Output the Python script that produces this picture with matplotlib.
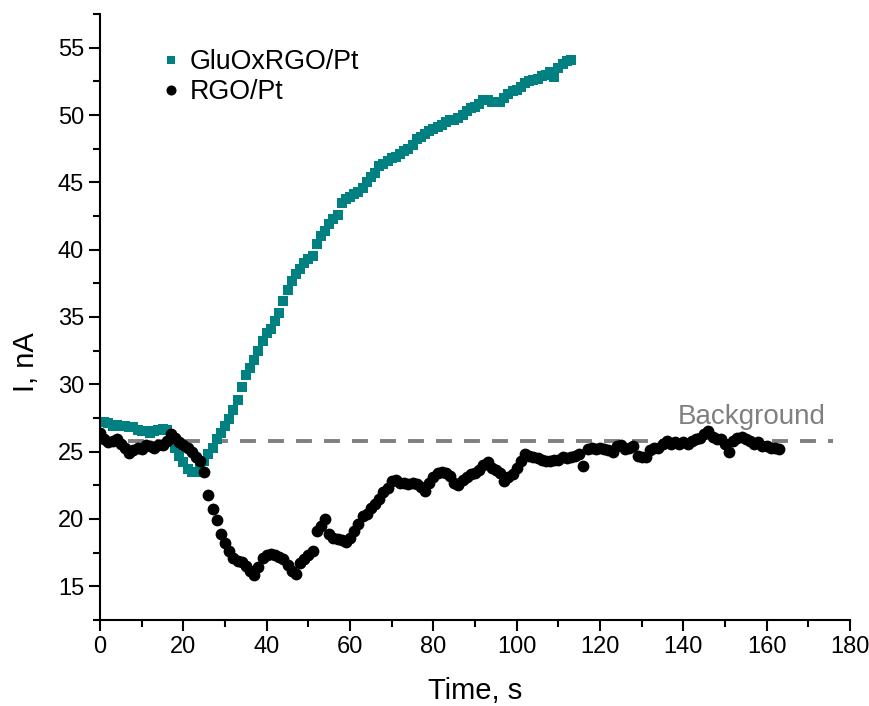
import matplotlib.pyplot as plt
from matplotlib.ticker import MultipleLocator

plt.rcParams['font.family'] = ['Liberation Sans Narrow', 'Liberation Sans', 'DejaVu Sans']

# GluOxRGO/Pt, one point per second from t = 1 s
glu_t0 = 1
glu_i = [27.2, 27.1, 26.9, 27.0, 26.9, 26.9, 26.8, 26.8, 26.6, 26.5,
         26.5, 26.4, 26.5, 26.6, 26.7, 26.6, 25.8, 25.3, 24.7, 24.2,
         23.7, 23.5, 23.5, 23.9, 24.3, 24.8, 25.3, 25.9, 26.4, 26.9,
         27.4, 28.1, 28.8, 29.8, 30.7, 31.2, 31.8, 32.5, 33.2, 33.8,
         34.1, 34.7, 35.3, 36.2, 37.0, 37.7, 38.2, 38.6, 39.0, 39.3,
         39.5, 40.4, 41.0, 41.4, 41.9, 42.3, 42.6, 43.5, 43.8, 43.9,
         44.1, 44.3, 44.6, 45.0, 45.4, 45.7, 46.2, 46.4, 46.6, 46.8,
         46.9, 47.1, 47.3, 47.5, 47.8, 48.2, 48.4, 48.6, 48.8, 49.0,
         49.1, 49.3, 49.5, 49.6, 49.6, 49.8, 50.0, 50.3, 50.5, 50.6,
         50.8, 51.1, 51.1, 51.0, 51.0, 51.0, 51.3, 51.6, 51.8, 51.9,
         52.1, 52.4, 52.5, 52.6, 52.7, 52.9, 53.0, 53.2, 52.8, 53.5,
         53.8, 54.0, 54.1]

# RGO/Pt, one point per second from t = 0 s
rgo_t0 = 0
rgo_i = [26.4, 25.9, 25.7, 25.8, 25.9, 25.6, 25.3, 24.9, 25.1, 25.3,
         25.2, 25.5, 25.4, 25.3, 25.5, 25.5, 25.8, 26.3, 26.0, 25.7,
         25.5, 25.3, 25.0, 24.6, 24.3, 23.5, 21.8, 20.7, 19.9, 18.9,
         18.2, 17.6, 17.1, 16.9, 16.8, 16.5, 16.1, 15.8, 16.4, 17.1,
         17.3, 17.4, 17.3, 17.2, 17.0, 16.6, 16.1, 15.9, 16.7, 17.0,
         17.3, 17.6, 19.1, 19.5, 20.0, 18.9, 18.6, 18.5, 18.4, 18.3,
         18.6, 19.1, 19.6, 20.2, 20.4, 20.8, 21.1, 21.5, 22.0, 22.3,
         22.8, 22.9, 22.7, 22.7, 22.6, 22.7, 22.6, 22.4, 22.1, 22.7,
         23.1, 23.4, 23.5, 23.4, 23.2, 22.7, 22.5, 22.9, 23.1, 23.3,
         23.4, 23.6, 24.0, 24.2, 23.8, 23.6, 23.4, 22.8, 23.1, 23.3,
         23.8, 24.3, 24.8, 24.7, 24.6, 24.5, 24.4, 24.3, 24.3, 24.4,
         24.4, 24.6, 24.5, 24.6, 24.7, 24.8, 23.9, 25.2, 25.3, 25.2,
         25.3, 25.2, 25.1, 25.0, 25.4, 25.5, 25.2, 25.3, 25.4, 24.7,
         24.6, 24.6, 25.1, 25.3, 25.3, 25.6, 25.8, 25.6, 25.7, 25.6,
         25.7, 25.6, 25.8, 25.9, 26.0, 26.3, 26.5, 26.1, 25.9, 25.9,
         25.6, 25.0, 25.8, 26.0, 26.1, 25.9, 25.8, 25.6, 25.7, 25.4,
         25.4, 25.3, 25.3, 25.2]

background = 25.8
background_end = 176

glu_t = [glu_t0 + k for k in range(len(glu_i))]
rgo_t = [rgo_t0 + k for k in range(len(rgo_i))]

fig = plt.figure(figsize=(8.7, 7.06), dpi=100)
ax = fig.add_axes([0.115, 0.122, 0.862, 0.858])

ax.hlines(background, 0, background_end, colors='#808080', linestyles=(0, (4.1, 3.1)),
          linewidth=2.8, zorder=1)
ax.text(156.5, 26.6, 'Background', color='#808080', fontsize=20,
        family=['Liberation Sans', 'DejaVu Sans'], ha='center', va='bottom')

ax.plot(glu_t, glu_i, 's', color='#008080', markersize=7.5, markeredgewidth=0,
        label='GluOxRGO/Pt', zorder=2)
ax.plot(rgo_t, rgo_i, 'o', color='black', markersize=8.5, markeredgewidth=0,
        label='RGO/Pt', zorder=3)

ax.set_xlim(0, 180)
ax.set_ylim(12.5, 57.5)
ax.xaxis.set_major_locator(MultipleLocator(20))
ax.xaxis.set_minor_locator(MultipleLocator(10))
ax.yaxis.set_major_locator(MultipleLocator(5))
ax.yaxis.set_minor_locator(MultipleLocator(2.5))

for s in ['top', 'right']:
    ax.spines[s].set_visible(False)
for s in ['left', 'bottom']:
    ax.spines[s].set_linewidth(1.5)
ax.tick_params(which='major', direction='out', length=8, width=1.5, labelsize=17)
ax.tick_params(which='minor', direction='out', length=5, width=1.5)

ax.set_xlabel('Time, s', fontsize=21, labelpad=14)
ax.set_ylabel('I, nA', fontsize=21, labelpad=12)
ax.yaxis.set_label_coords(-0.08, 0.426)

leg = ax.legend(loc='upper left', bbox_to_anchor=(0.048, 0.982), frameon=False,
                prop={'family': ['Liberation Sans', 'DejaVu Sans'], 'size': 19.3},
                handletextpad=0.3, labelspacing=0.15, handlelength=0.8,
                markerscale=0.85)

fig.savefig('out.png', dpi=100)
